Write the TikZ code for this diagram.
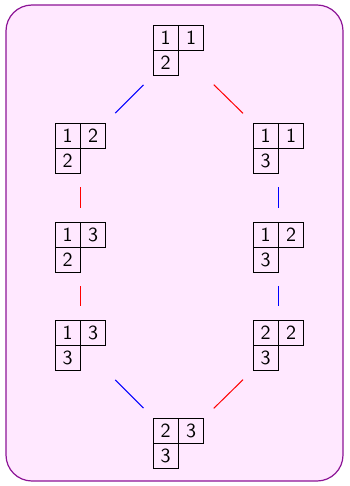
\documentclass[tikz,border=0pt]{standalone}
\usetikzlibrary{fit}
\definecolor{bgpink}{RGB}{255,232,255}
\definecolor{framepurple}{RGB}{140,20,150}
\tikzset{
  cell/.style={draw=black, line width=0.4pt, minimum width=12.7pt, minimum height=12.5pt,
    inner sep=0pt, outer sep=0pt, font=\sffamily},
  tabbox/.style={inner sep=0pt, outer sep=0pt},
  edge/.style={line width=0.5pt, shorten >=7pt, shorten <=7pt},
  frame/.style={draw=framepurple, fill=bgpink, line width=0.6pt, rounded corners=13pt}
}
\newcommand\yngtab[6]{%
  \node[cell, anchor=north west] (#1a) at (#2,#3) {#4};
  \node[cell, anchor=north west] (#1b) at (#1a.north east) {#5};
  \node[cell, anchor=north west] (#1c) at (#1a.south west) {#6};
  \node[tabbox, fit=(#1a)(#1b)(#1c)] (#1) {};
}
\begin{document}
\begin{tikzpicture}[x=0.5pt, y=-0.5pt]
  \useasboundingbox (0,0) rectangle (349,486);
  \draw[frame] (6,5) rectangle (343,481);
  \yngtab{T}{153}{25}{1}{1}{2}
  \yngtab{La}{55}{123}{1}{2}{2}
  \yngtab{Lb}{55}{222}{1}{3}{2}
  \yngtab{Lc}{55}{320}{1}{3}{3}
  \yngtab{Ra}{253}{123}{1}{1}{3}
  \yngtab{Rb}{253}{222}{1}{2}{3}
  \yngtab{Rc}{253}{320}{2}{2}{3}
  \yngtab{B}{153}{418}{2}{3}{3}
  \draw[edge, blue] (La) -- (T);
  \draw[edge, red] (T) -- (Ra);
  \draw[edge, red] (La) -- (Lb);
  \draw[edge, red] (Lb) -- (Lc);
  \draw[edge, blue] (Ra) -- (Rb);
  \draw[edge, blue] (Rb) -- (Rc);
  \draw[edge, blue] (Lc) -- (B);
  \draw[edge, red] (Rc) -- (B);
\end{tikzpicture}
\end{document}
